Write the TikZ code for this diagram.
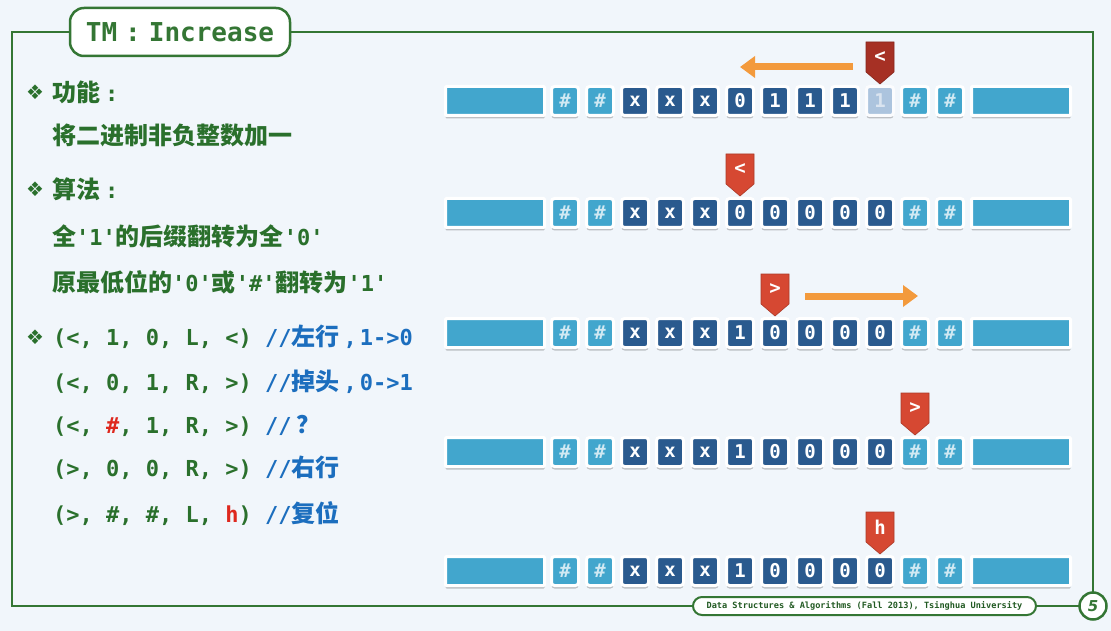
\documentclass[tikz,border=0pt]{standalone}
\usepackage{fontspec}
\setmonofont{DejaVu Sans Mono}
\setsansfont{DejaVu Sans}
\newfontfamily\cjkfont{Noto Sans CJK SC}
\newfontfamily\symfont{DejaVu Sans}
\usetikzlibrary{arrows.meta,shadows}

\definecolor{bg}{RGB}{241,246,251}
\definecolor{frame}{RGB}{52,118,52}
\definecolor{txtgreen}{RGB}{42,112,44}
\definecolor{cmtblue}{RGB}{28,110,190}
\definecolor{hotred}{RGB}{222,40,30}
\definecolor{tapelight}{RGB}{66,166,205}
\definecolor{tapedark}{RGB}{42,90,142}
\definecolor{tapefaded}{RGB}{172,196,222}
\definecolor{headred}{RGB}{214,72,50}
\definecolor{headdark}{RGB}{166,48,36}
\definecolor{arroworange}{RGB}{243,154,60}

% Chinese text, comments and highlighted symbols
\newcommand\zh[1]{{\cjkfont\bfseries\fontsize{24}{28}\selectfont #1}}
\newcommand\cm[1]{\textcolor{cmtblue}{#1}}
\newcommand\hl[1]{\textcolor{hotred}{#1}}
\newcommand\bul{{\symfont\fontsize{20}{20}\selectfont ❖}}
\newcommand\colonsep{\hspace{5pt}:}

% one tape: name, y, list of type/label for 12 cells
\newcommand\tape[3]{%
  \node[tapebar] (#1-l) at (495,#2) {};
  \node[tapebar] (#1-r) at (1021,#2) {};
  \foreach \t/\lab [count=\i] in {#3} {
    \node[cell\t] (#1-\i) at ({530+35*\i},#2) {\lab};
  }
}
% read/write head above a cell: name, cell node, label, colour
\newcommand\head[4]{%
  \begin{scope}[shift={(#2.center)}]
    \fill[#4, draw=#4!80!black, line width=0.6pt]
      (-14,-59) -- (14,-59) -- (14,-29) -- (0,-17) -- (-14,-29) -- cycle;
    \node[headlabel] (#1) at (0,-44) {#3};
  \end{scope}
}

\begin{document}
\begin{tikzpicture}[x=1pt,y=-1pt,
  cellbase/.style={draw=white, line width=3pt, rounded corners=3pt,
    minimum width=27pt, minimum height=29pt, inner sep=0pt,
    font=\ttfamily\bfseries\fontsize{19}{19}\selectfont,
    drop shadow={shadow xshift=0pt, shadow yshift=-3pt, opacity=0.22, fill=black}},
  cellL/.style={cellbase, fill=tapelight, text=white!75!tapelight},
  cellD/.style={cellbase, fill=tapedark, text=white},
  cellF/.style={cellbase, fill=tapefaded, draw=white!70!bg, text=white!55!tapefaded},
  tapebar/.style={cellbase, fill=tapelight, minimum width=99pt, rounded corners=1pt},
  headlabel/.style={inner sep=0pt, text=white, font=\ttfamily\bfseries\fontsize{19}{19}\selectfont},
  line/.style={anchor=base west, inner sep=0pt, text=txtgreen,
    font=\ttfamily\bfseries\fontsize{22}{26}\selectfont},
  bullet/.style={anchor=base west, inner sep=0pt, text=txtgreen},
  move/.style={draw=arroworange, line width=7pt, -{Triangle[width=21pt,length=15pt]}},
]
\useasboundingbox (0,0) rectangle (1111,631);
\fill[bg] (0,0) rectangle (1111,631);

% slide frame
\draw[frame, line width=2.5pt] (12,32) rectangle (1093,606);
\node[draw=frame, line width=2.5pt, fill=white, rounded corners=14pt,
  minimum width=220pt, minimum height=48pt, inner sep=0pt, text=frame,
  font=\ttfamily\bfseries\fontsize{26}{26}\selectfont] (title) at (180,32)
  {TM\hspace{8pt}:\hspace{8pt}Increase};
\node[draw=frame, line width=2pt, fill=white, rounded corners=9pt,
  minimum width=343pt, minimum height=18pt, inner sep=0pt, text=txtgreen!80!black,
  font=\ttfamily\bfseries\fontsize{8.6}{9}\selectfont] (footer) at (864.5,606)
  {Data Structures \& Algorithms (Fall 2013), Tsinghua University};
\node[circle, draw=frame, line width=2.5pt, fill=white, minimum size=27pt,
  inner sep=0pt, text=frame, font=\sffamily\bfseries\itshape\fontsize{15}{15}\selectfont]
  (page) at (1093,606) {5};

% left column
\node[bullet] (b1) at (26,100) {\bul};
\node[line] (t1) at (52,102) {\zh{功能}\colonsep};
\node[line] (t2) at (52,145) {\zh{将二进制非负整数加一}};
\node[bullet] (b2) at (26,197) {\bul};
\node[line] (t3) at (52,199) {\zh{算法}\colonsep};
\node[line] (t4) at (52,246) {\zh{全}'1'\zh{的后缀翻转为全}'0'};
\node[line] (t5) at (52,291) {\zh{原最低位的}'0'\zh{或}'\#'\zh{翻转为}'1'};
\node[bullet] (b3) at (26,344) {\bul};
\node[line] (r1) at (53,345) {(<, 1, 0, L, <) \cm{//\zh{左行}\hspace{4pt},\hspace{3pt}1->0}};
\node[line] (r2) at (53,390) {(<, 0, 1, R, >) \cm{//\zh{掉头}\hspace{4pt},\hspace{3pt}0->1}};
\node[line] (r3) at (53,433) {(<, \hl{\#}, 1, R, >) \cm{//\hspace{5pt}\zh{？}}};
\node[line] (r4) at (53,476) {(>, 0, 0, R, >) \cm{//\zh{右行}}};
\node[line] (r5) at (53,522) {(>, \#, \#, L, \hl{h}) \cm{//\zh{复位}}};

% tapes
\tape{ta}{101}{L/\#,L/\#,D/x,D/x,D/x,D/0,D/1,D/1,D/1,F/1,L/\#,L/\#}
\tape{tb}{213}{L/\#,L/\#,D/x,D/x,D/x,D/0,D/0,D/0,D/0,D/0,L/\#,L/\#}
\tape{tc}{333}{L/\#,L/\#,D/x,D/x,D/x,D/1,D/0,D/0,D/0,D/0,L/\#,L/\#}
\tape{td}{452}{L/\#,L/\#,D/x,D/x,D/x,D/1,D/0,D/0,D/0,D/0,L/\#,L/\#}
\tape{te}{571}{L/\#,L/\#,D/x,D/x,D/x,D/1,D/0,D/0,D/0,D/0,L/\#,L/\#}

% heads
\head{ha}{ta-10}{<}{headdark}
\head{hb}{tb-6}{<}{headred}
\head{hc}{tc-7}{>}{headred}
\head{hd}{td-11}{>}{headred}
\head{he}{te-10}{h}{headred}

% head movement
\coordinate (ma-s) at (853,67);
\coordinate (ma-e) at (740,67);
\coordinate (mc-s) at (805,296);
\coordinate (mc-e) at (918,296);
\draw[move] (ma-s) -- (ma-e);
\draw[move] (mc-s) -- (mc-e);
\end{tikzpicture}
\end{document}
